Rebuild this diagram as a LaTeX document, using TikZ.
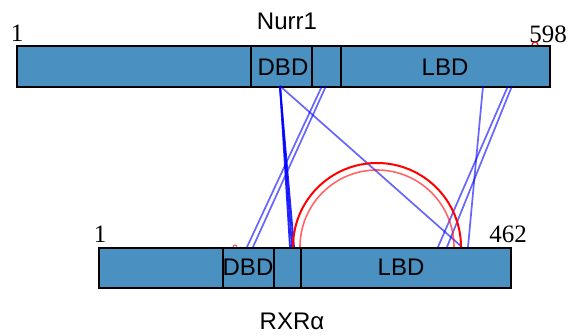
\documentclass[tikz,border=0pt]{standalone}
\usepackage{fontspec}
\setmainfont{Liberation Serif}
\setsansfont{Liberation Sans}
\begin{document}
\begin{tikzpicture}[x=1pt,y=-1pt,
  bar/.style={draw=black,line width=2pt,fill=barblue,inner sep=0pt,anchor=north west},
  dom/.style={draw=black,line width=1.2pt},
  lab/.style={font=\sffamily\fontsize{24}{24}\selectfont,inner sep=0pt},
  num/.style={font=\fontsize{25}{25}\selectfont,inner sep=0pt},
  xl/.style={blue,line width=1.7pt,opacity=0.6},
  xldark/.style={blue,line width=1.8pt,opacity=0.85},
  selfl/.style={red,line width=2pt},
  selflight/.style={red,line width=1.6pt,opacity=0.6}]
\definecolor{barblue}{RGB}{74,144,193}
\useasboundingbox (0,0) rectangle (571,336);
% bars
\node[bar,minimum width=533pt,minimum height=41pt] (nurr) at (16,45) {};
\node[bar,minimum width=412pt,minimum height=40pt] (rxr) at (98,247) {};
% domain dividers
\draw[dom] (251,45) -- (251,86);
\draw[dom] (312,45) -- (312,86);
\draw[dom] (341,45) -- (341,86);
\draw[dom] (223,247) -- (223,287);
\draw[dom] (274,247) -- (274,287);
\draw[dom] (301,247) -- (301,287);
% labels
\node[lab] (tname) at (287,21) {Nurr1};
\node[lab] (bname) at (292,321) {RXRα};
\node[lab] (tdbd) at (283,67) {DBD};
\node[lab] (tlbd) at (445,67) {LBD};
\node[lab] (bdbd) at (248,267) {DBD};
\node[lab] (blbd) at (401,267) {LBD};
\node[num] (t1) at (17,33) {1};
\node[num] (t598) at (548,34) {598};
\node[num] (b1) at (100,234) {1};
\node[num] (b462) at (508,234) {462};
% residue anchor points
\coordinate (n280) at (280,86);
\coordinate (n322) at (322,86);
\coordinate (n326) at (326,86);
\coordinate (n483) at (483,86);
\coordinate (n508) at (508,86);
\coordinate (n512) at (512,86);
\coordinate (r290) at (290,247);
\coordinate (r292) at (292,247);
\coordinate (r294) at (294,247);
\coordinate (r462) at (462,247);
\coordinate (r247) at (247,247);
\coordinate (r253) at (253,247);
\coordinate (r468) at (468,247);
\coordinate (r438) at (438,247);
\coordinate (r447) at (447,247);
% inter-links
\draw[xldark] (n280) -- (r290);
\draw[xldark] (n280) -- (r292);
\draw[xldark] (n280) -- (r294);
\draw[xl] (n280) -- (r462);
\draw[xl] (n322) -- (r247);
\draw[xl] (n326) -- (r253);
\draw[xl] (n483) -- (r468);
\draw[xl] (n508) -- (r438);
\draw[xl] (n512) -- (r447);
% intra-links (self)
\coordinate (s293) at (293,247);
\coordinate (s300) at (300,247);
\draw[selfl] (s293) arc[start angle=180,end angle=360,radius=84];
\draw[selflight] (s300) arc[start angle=180,end angle=360,radius=77];
\coordinate (s532) at (532,45);
\draw[selfl,line width=1.2pt] (s532) arc[start angle=180,end angle=360,radius=3];
\coordinate (s233) at (233,247);
\draw[selfl,line width=1pt,opacity=0.7] (s233) arc[start angle=180,end angle=360,radius=2];
\end{tikzpicture}
\end{document}
